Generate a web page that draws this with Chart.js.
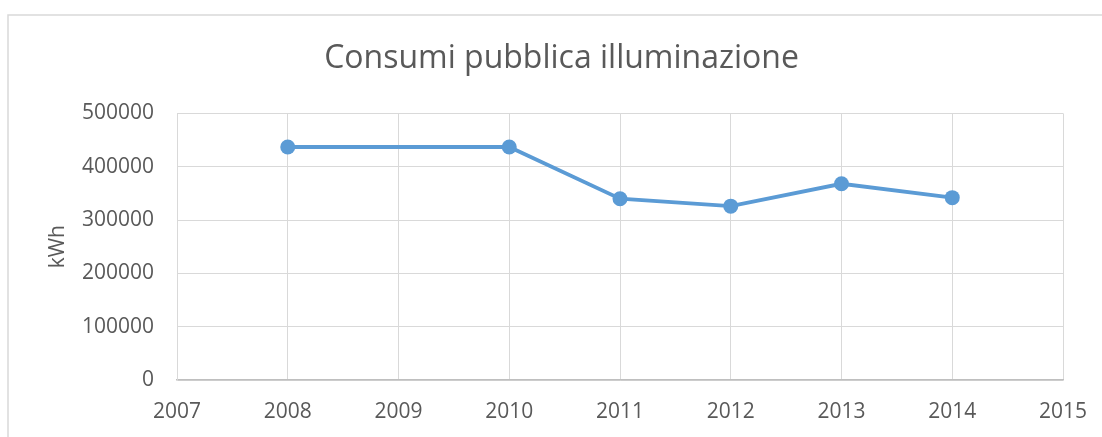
<!DOCTYPE html>
<html>
<head>
<meta charset="utf-8">
<script src="https://cdn.jsdelivr.net/npm/chart.js@4"></script>
<style>
  html, body { margin: 0; padding: 0; background: #ffffff; }
  #wrap { position: relative; width: 1102px; height: 437px; }
</style>
</head>
<body>
<div id="wrap"><canvas id="c" width="1102" height="437"></canvas></div>
<script>
const titleText = "Consumi pubblica illuminazione";
const yAxisTitle = "kWh";
const years = [2008, 2010, 2011, 2012, 2013, 2014];
const consumi = [437000, 437000, 340000, 326000, 368000, 342000];
const xMin = 2007, xMax = 2015, xStep = 1;
const yMin = 0, yMax = 500000, yStep = 100000;

const textColor = '#595959';
const gridColor = '#d9d9d9';
const lineColor = '#5b9bd5';

const frame = {
  id: 'frame',
  beforeDraw(chart) {
    const ctx = chart.ctx;
    ctx.save();
    ctx.fillStyle = '#ffffff';
    ctx.fillRect(0, 0, chart.width, chart.height);
    ctx.strokeStyle = gridColor;
    ctx.lineWidth = 1.5;
    ctx.strokeRect(8, 15, 3000, 3000);
    ctx.restore();
  }
};

new Chart(document.getElementById('c'), {
  type: 'line',
  data: {
    datasets: [{
      label: yAxisTitle,
      data: years.map((x, i) => ({ x: x, y: consumi[i] })),
      borderColor: lineColor,
      backgroundColor: lineColor,
      borderWidth: 3.8,
      pointRadius: 7.5,
      pointHoverRadius: 7.5,
      pointBackgroundColor: lineColor,
      pointBorderColor: lineColor,
      pointBorderWidth: 0,
      tension: 0,
      fill: false
    }]
  },
  options: {
    responsive: false,
    animation: false,
    devicePixelRatio: 1,
    layout: { padding: { left: 60, right: 39, top: 0, bottom: 0 } },
    plugins: {
      legend: { display: false },
      tooltip: { enabled: false },
      title: {
        display: true,
        text: titleText,
        color: textColor,
        font: { family: "'Open Sans'", size: 32, weight: 'normal' },
        padding: { top: 40, bottom: 35 }
      }
    },
    scales: {
      x: {
        type: 'linear',
        min: xMin, max: xMax,
        afterFit(s) { s.height = 57; s.paddingLeft = 0; s.paddingRight = 0; },
        ticks: {
          stepSize: xStep,
          color: textColor,
          font: { family: "'Open Sans'", size: 21 },
          padding: 19,
          maxRotation: 0,
          callback: v => String(v)
        },
        grid: { color: gridColor, lineWidth: 1, drawTicks: false },
        border: { color: '#bfbfbf', width: 1.5 }
      },
      y: {
        min: yMin, max: yMax,
        afterFit(s) { s.width = 117; s.paddingTop = 0; s.paddingBottom = 0; },
        ticks: {
          stepSize: yStep,
          color: textColor,
          font: { family: "'Open Sans'", size: 21 },
          padding: 23,
          callback: v => String(v)
        },
        grid: { color: gridColor, lineWidth: 1, drawTicks: false },
        border: { color: gridColor, width: 1 },
        title: {
          display: true,
          text: yAxisTitle,
          color: textColor,
          font: { family: "'Open Sans'", size: 21 },
          padding: { top: -15, bottom: 0 }
        }
      }
    }
  },
  plugins: [frame]
});
</script>
</body>
</html>
